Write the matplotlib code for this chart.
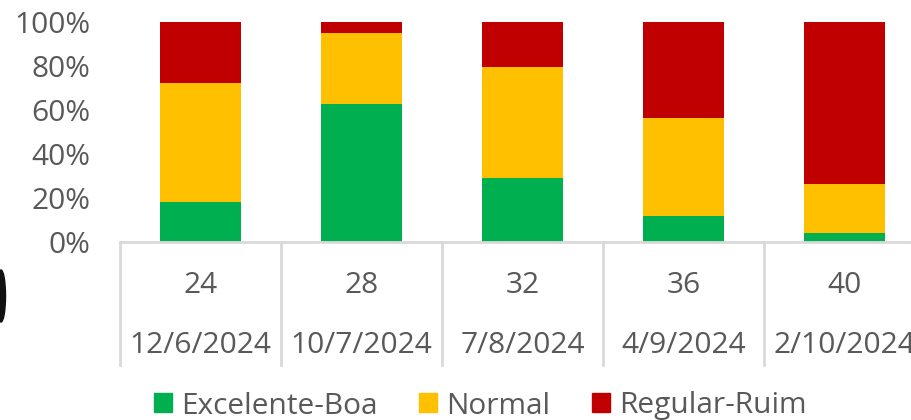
import numpy as np
import matplotlib
matplotlib.use("Agg")
import matplotlib.pyplot as plt
from matplotlib.patches import Patch, Ellipse

# dados
semanas = ["24", "28", "32", "36", "40"]
datas = ["12/6/2024", "10/7/2024", "7/8/2024", "4/9/2024", "2/10/2024"]
excelente_boa = [18.0, 62.8, 29.3, 11.8, 4.2]
normal = [54.5, 32.2, 50.4, 44.5, 22.3]
regular_ruim = [27.5, 5.0, 20.3, 43.7, 73.5]

cores = ["#00B050", "#FFC000", "#C00000"]
nomes = ["Excelente-Boa", "Normal", "Regular-Ruim"]
cinza = "#595959"
linha = "#D9D9D9"

plt.rcParams['font.family'] = ['Open Sans', 'DejaVu Sans']
fs = 21.5

fig = plt.figure(figsize=(9.12, 4.2), dpi=100)
ax = fig.add_axes([120/912, 178/420, 805/912, 219.7/420])

x = np.arange(len(semanas))
eb = np.array(excelente_boa) / 100
no = np.array(normal) / 100
rr = np.array(regular_ruim) / 100
ax.bar(x, eb, 0.5, color=cores[0])
ax.bar(x, no, 0.5, bottom=eb, color=cores[1])
ax.bar(x, rr, 0.5, bottom=eb + no, color=cores[2])

ax.set_xlim(-0.5, len(semanas) - 0.5)
ax.set_ylim(0, 1)
ax.set_yticks(np.arange(0, 1.01, 0.2))
ax.set_yticklabels([f"{int(round(v*100))}%" for v in np.arange(0, 1.01, 0.2)])
ax.tick_params(axis='y', length=0, pad=21, labelsize=fs, labelcolor=cinza)
ax.set_xticks([])
for s in ["top", "right", "left"]:
    ax.spines[s].set_visible(False)
ax.spines["bottom"].set_color(linha)
ax.spines["bottom"].set_linewidth(2)

trans = ax.get_xaxis_transform()
for i in range(len(semanas) + 1):
    ax.plot([i - 0.5, i - 0.5], [0, -0.56], transform=trans, color=linha,
            lw=2, clip_on=False)
for i in range(len(semanas)):
    ax.text(i, -0.2335, semanas[i], transform=trans, ha='center', va='baseline',
            fontsize=fs, color=cinza)
    ax.text(i, -0.507, datas[i], transform=trans, ha='center', va='baseline',
            fontsize=fs, color=cinza)

handles = [Patch(color=c, label=n) for c, n in zip(cores, nomes)]
leg = fig.legend(handles=handles, loc='center', bbox_to_anchor=(480/912, 14/420),
                 ncol=3, frameon=False, fontsize=fs, handlelength=0.6,
                 handleheight=0.6, handletextpad=0.3, columnspacing=1.4)
for t in leg.get_texts():
    t.set_color(cinza)

# mancha escura na borda esquerda
fig.add_artist(Ellipse((1/912, 1 - 296/420), 9/912, 52/420,
                       transform=fig.transFigure, color="#111111"))

fig.savefig("out.png", dpi=100)
